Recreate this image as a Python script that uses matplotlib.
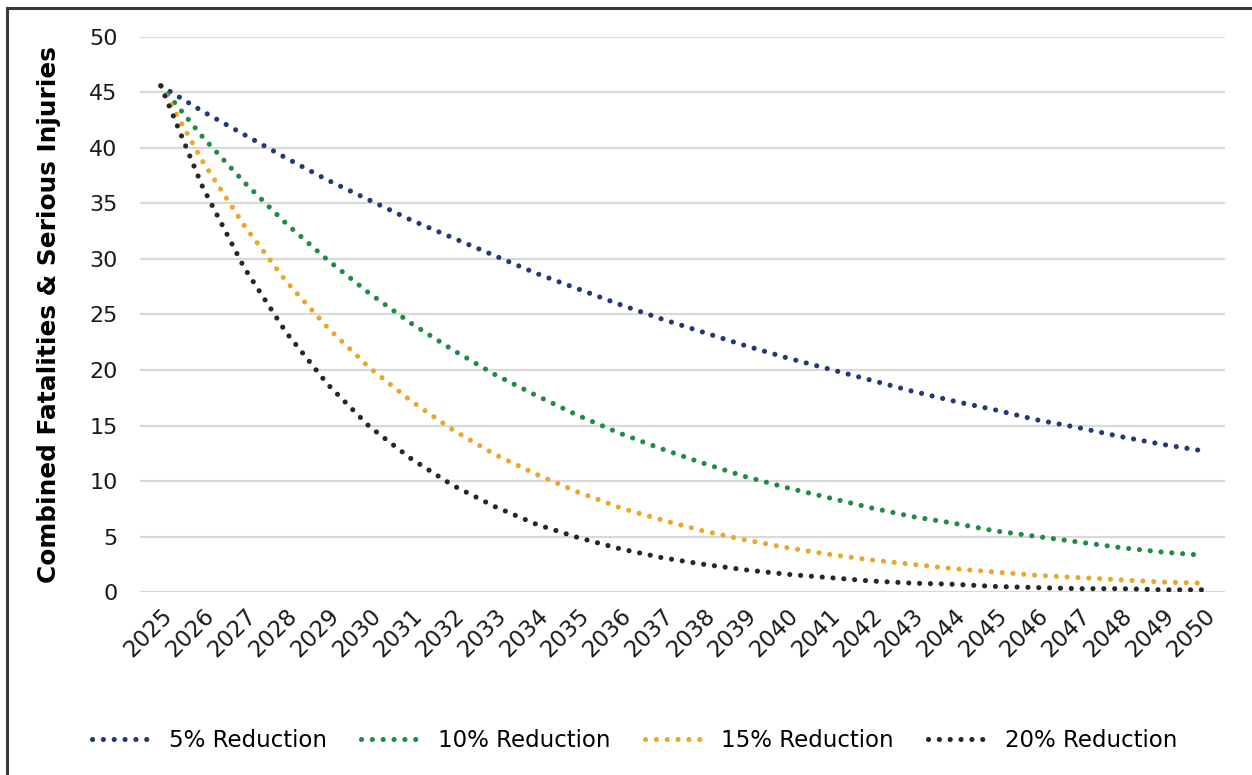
import matplotlib
import matplotlib.pyplot as plt
from matplotlib.lines import Line2D

matplotlib.use('Agg')

#data
years = [str(y) for y in range(2025, 2051)]
red_5 = [45.6, 43.3, 41.2, 39.1, 37.1, 35.3, 33.5, 31.9, 30.3, 28.7, 27.3, 25.9, 24.6,
         23.4, 22.2, 21.1, 20.1, 19.1, 18.1, 17.2, 16.4, 15.5, 14.8, 14.0, 13.3, 12.7]
red_10 = [45.6, 41.0, 36.9, 33.2, 29.9, 26.9, 24.2, 21.8, 19.6, 17.7, 15.9, 14.3, 12.9,
          11.6, 10.4, 9.4, 8.5, 7.6, 6.8, 6.2, 5.5, 5.0, 4.5, 4.0, 3.6, 3.3]
red_15 = [45.6, 38.8, 33.0, 28.0, 23.8, 20.2, 17.2, 14.6, 12.4, 10.6, 9.0, 7.6, 6.5,
          5.5, 4.7, 4.0, 3.4, 2.9, 2.5, 2.1, 1.8, 1.5, 1.3, 1.1, 0.9, 0.8]
red_20 = [45.6, 36.5, 29.2, 23.4, 18.7, 14.9, 12.0, 9.6, 7.7, 6.1, 4.9, 3.9, 3.1,
          2.5, 2.0, 1.6, 1.3, 1.0, 0.8, 0.7, 0.5, 0.4, 0.3, 0.3, 0.2, 0.2]
series = [
    ("5% Reduction", red_5, "#233876"),
    ("10% Reduction", red_10, "#1f8b46"),
    ("15% Reduction", red_15, "#e9a825"),
    ("20% Reduction", red_20, "#272727"),
]

fig = plt.figure(figsize=(12.52, 7.75), dpi=100)
ax = fig.add_axes([0.1118, 0.2361, 0.8666, 0.7162])

x = list(range(len(years)))
for name, vals, col in series:
    ax.plot(x, vals, color=col, linewidth=3.7, linestyle=(0, (0.01, 2.1)),
            dash_capstyle='round', label=name)

ax.set_xlim(-0.5, len(years) - 0.5)
ax.set_ylim(0, 50)
ax.set_yticks(range(0, 51, 5))
ax.set_xticks(x)
ax.set_xticklabels(years, rotation=45, ha='right', va='top', rotation_mode='anchor',
                   fontsize=16.5, color='#1a1a1a')
for t in ax.get_yticklabels():
    t.set_fontsize(16)
    t.set_color('#1a1a1a')
ax.tick_params(axis='both', length=0)
ax.tick_params(axis='y', pad=16)
ax.tick_params(axis='x', pad=9)
ax.grid(axis='y', color='#d9d9d9', linewidth=1.6)
ax.set_axisbelow(True)
for s in ax.spines.values():
    s.set_visible(False)

ax.set_ylabel("Combined Fatalities & Serious Injuries", fontsize=17.8, fontweight='heavy',
              family='DejaVu Sans', labelpad=20)

leg = fig.legend(loc='center', bbox_to_anchor=(0.507, 0.044), ncol=4, frameon=False,
                 fontsize=16.5, handlelength=2.5, columnspacing=1.5, handletextpad=0.85)

#outer border, only top and left are inside the picture
fig.add_artist(Line2D([7 / 1252, 1.0], [1 - 8 / 775, 1 - 8 / 775], transform=fig.transFigure,
                      color='#3a3a3a', linewidth=2.2))
fig.add_artist(Line2D([7 / 1252, 7 / 1252], [0.0, 1 - 8 / 775], transform=fig.transFigure,
                      color='#3a3a3a', linewidth=2.2))

fig.savefig('out.png', dpi=100)
